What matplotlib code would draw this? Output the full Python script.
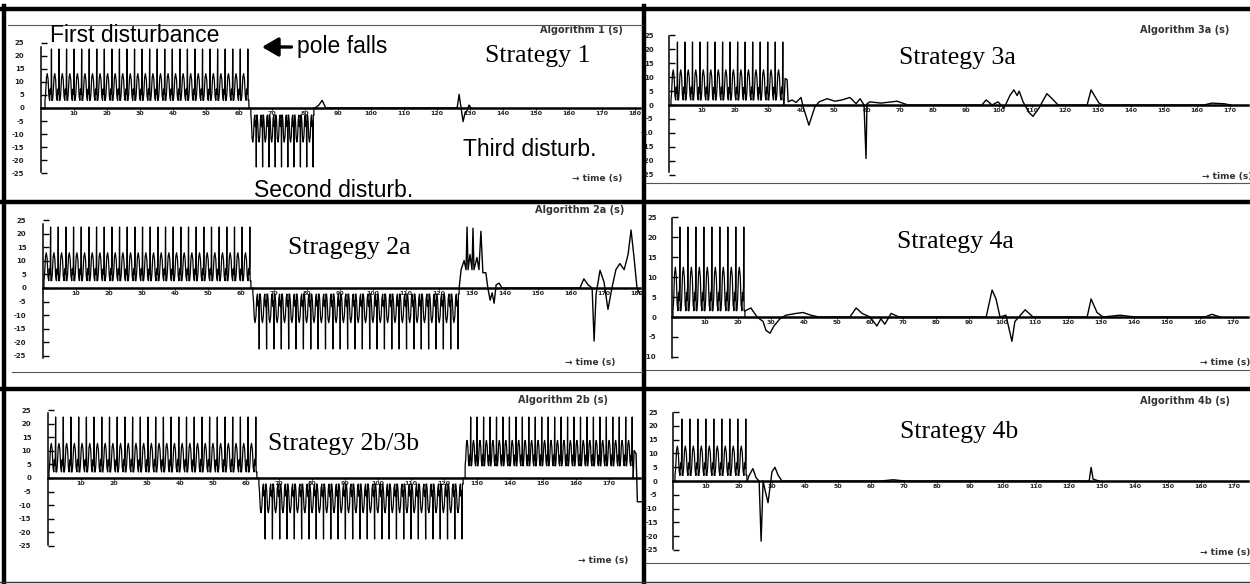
import numpy as np
import matplotlib.pyplot as plt
from matplotlib.lines import Line2D

W, H = 1250, 584

cycle_phase = [0.00, 0.08, 0.20, 0.30, 0.42, 0.52, 0.62, 0.70, 0.76, 0.82, 0.86, 0.90, 1.00]
cycle_level = [0.00, 0.12, 0.45, 0.52, 0.40, 0.08, 0.00, 0.22, 0.12, 0.28, 1.00, 0.00, 0.00]

# bursts: (start s, end s, cycles, trough, tip)
bursts_1 = [(1.2, 63.0, 27, 0.13, 1.0), (63.6, 82.7, 10, -0.12, -1.0)]
bursts_2a = [(0.3, 63.0, 27, 0.12, 1.0), (63.6, 126.1, 28, -0.10, -1.0)]
bursts_2b = [(0.3, 63.3, 27, 0.10, 1.0), (63.9, 125.8, 28, -0.10, -1.0), (126.4, 177.3, 26, 0.20, 1.0)]
bursts_3a = [(0.6, 34.8, 15, 0.08, 1.0)]
bursts_4a = [(0.3, 22.1, 9, 0.07, 1.0)]
bursts_4b = [(0.6, 22.4, 9, 0.09, 1.0)]

# transients between the bursts
t_1 = [83.0, 84.2, 85.2, 86.3, 126.1, 126.7, 127.3, 127.9, 128.5, 129.1, 129.7, 130.3]
y_1 = [0.0, 0.05, 0.13, 0.0, 0.0, 0.23, 0.0, -0.23, -0.08, -0.05, 0.05, 0.0]

t_2a = [126.1, 126.7, 127.6, 128.2, 128.5, 128.8, 129.4, 130.0, 130.3, 130.6, 131.5, 132.1, 132.7,
        133.3, 134.2, 134.8, 135.5, 136.1, 136.7, 137.3, 138.2, 139.1,
        162.7, 163.9, 165.2, 166.4, 167.0, 167.6, 168.8, 170.0, 171.2, 172.4, 173.6, 174.8,
        176.1, 177.3, 178.2, 179.1, 180.0, 180.9]
y_2a = [0.0, 0.3, 0.45, 0.3, 1.0, 0.3, 0.55, 0.3, 0.98, 0.3, 0.5, 0.3, 0.93,
        0.25, 0.25, 0.0, -0.2, -0.08, -0.25, 0.05, 0.08, 0.0,
        0.0, 0.15, 0.05, 0.0, -0.87, -0.1, 0.29, 0.1, -0.35, 0.0, 0.3, 0.4,
        0.3, 0.55, 0.95, 0.5, 0.0, -0.1]

t_2b = [177.3, 177.6, 178.2, 178.6, 180.3]
y_2b = [0.0, 0.45, 0.4, -0.39, -0.39]

t_3a = [34.8, 35.2, 35.8, 36.1, 37.3, 38.5, 40.0, 40.6, 42.4, 44.2, 45.5, 47.9, 50.3, 52.4,
        54.8, 56.7, 57.9, 59.1, 59.7, 60.0, 60.9, 64.2, 69.1, 72.4,
        94.8, 96.1, 97.9, 99.7, 101.5, 103.3, 104.5, 105.5, 106.1, 107.3, 109.1, 110.3,
        112.1, 114.5, 116.1, 117.9, 126.7, 127.9, 130.3, 131.5, 162.1, 164.5, 168.2, 170.3]
y_3a = [0.0, 0.42, 0.4, 0.05, 0.08, 0.04, 0.12, -0.02, -0.32, -0.03, 0.05, 0.1, 0.06, 0.08,
        0.12, 0.02, 0.1, 0.0, -0.85, 0.02, 0.05, 0.03, 0.06, 0.0,
        0.0, 0.08, 0.0, 0.05, -0.05, 0.15, 0.24, 0.15, 0.22, 0.05, -0.12, -0.18,
        -0.05, 0.18, 0.1, 0.0, 0.0, 0.24, 0.03, 0.0, 0.0, 0.03, 0.02, 0.0]

t_4a = [22.2, 23.9, 25.8, 27.6, 28.5, 29.7, 30.9, 32.7, 34.5, 37.6, 39.7, 42.1, 44.5,
        53.9, 55.8, 57.6, 60.0, 62.1, 63.3, 64.5, 66.4, 68.8,
        95.2, 97.0, 98.2, 99.4, 101.2, 103.0, 103.9, 107.0, 109.4,
        125.8, 127.0, 128.8, 130.6, 135.8, 140.3, 161.5, 163.6, 166.1]
y_4a = [0.07, 0.1, 0.0, -0.05, -0.15, -0.18, -0.1, -0.02, 0.02, 0.04, 0.05, 0.02, 0.0,
        0.0, 0.1, 0.04, 0.0, -0.1, -0.02, -0.08, 0.04, 0.0,
        0.0, 0.3, 0.2, 0.0, 0.02, -0.27, -0.05, 0.08, 0.0,
        0.0, 0.2, 0.05, 0.0, 0.02, 0.0, 0.0, 0.03, 0.0]

t_4b = [22.5, 23.0, 24.2, 25.2, 26.1, 26.7, 27.3, 27.9, 28.8, 29.4, 30.0, 30.9, 31.8, 33.0,
        63.0, 66.7, 70.3, 126.1, 126.7, 127.3, 129.1]
y_4b = [0.0, 0.08, 0.2, 0.05, 0.0, -0.97, 0.0, -0.15, -0.35, -0.1, 0.15, 0.22, 0.1, 0.0,
        0.0, 0.02, 0.0, 0.0, 0.22, 0.03, 0.0]

# panel layout: cell box in px, y-axis x, zero-line y, px per unit, y-axis span, tick range
panels = [
    dict(box=(6, 10, 642, 201), ax_x=41, zero=108, scale=59, span=(-1.08, 1.03), ticks=(-5, 5),
         bursts=bursts_1, t=t_1, y=y_1, title='Algorithm 1 (s)', tpos=(540, 30), time=(572, 178)),
    dict(box=(6, 204, 642, 388), ax_x=43, zero=288, scale=61, span=(-1.15, 1.05), ticks=(-5, 5),
         bursts=bursts_2a, t=t_2a, y=y_2a, title='Algorithm 2a (s)', tpos=(535, 210), time=(565, 362)),
    dict(box=(6, 391, 642, 582), ax_x=48, zero=478, scale=61, span=(-1.1, 1.07), ticks=(-5, 5),
         bursts=bursts_2b, t=t_2b, y=y_2b, title='Algorithm 2b (s)', tpos=(518, 400), time=(578, 560)),
    dict(box=(647, 10, 1250, 201), ax_x=669, zero=105, scale=63, span=(-1.06, 1.1), ticks=(-5, 5),
         bursts=bursts_3a, t=t_3a, y=y_3a, title='Algorithm 3a (s)', tpos=(1140, 30), time=(1202, 177)),
    dict(box=(647, 204, 1250, 388), ax_x=672, zero=317, scale=90, span=(-0.46, 1.1), ticks=(-2, 5),
         bursts=bursts_4a, t=t_4a, y=y_4a, title=None, tpos=None, time=(1200, 363)),
    dict(box=(647, 391, 1250, 582), ax_x=673, zero=481, scale=62, span=(-1.09, 1.09), ticks=(-5, 5),
         bursts=bursts_4b, t=t_4b, y=y_4b, title='Algorithm 4b (s)', tpos=(1140, 401), time=(1200, 553)),
]

PX_PER_S = 3.3
TICK_STEP = 0.222


def burst_trace(start, end, n, low, high):
    period = (end - start) / n
    t, y = [start], [0.0]
    for k in range(n):
        for ph, lv in zip(cycle_phase, cycle_level):
            t.append(start + (k + ph) * period)
            y.append(low + (high - low) * lv)
    t.append(end)
    y.append(0.0)
    return t, y


def fx(x):
    return x / W


def fy(y):
    return 1 - y / H


fig = plt.figure(figsize=(12.5, 5.84), dpi=100)

for p in panels:
    x0, y0, x1, y1 = p['box']
    ax = fig.add_axes([fx(x0), fy(y1), fx(x1 - x0), (y1 - y0) / H])
    ax.patch.set_visible(False)
    t_end = (x1 - 2 - p['ax_x']) / PX_PER_S
    ax.set_xlim(-(p['ax_x'] - x0) / PX_PER_S, (x1 - p['ax_x']) / PX_PER_S)
    ax.set_ylim(-(y1 - p['zero']) / p['scale'], (p['zero'] - y0) / p['scale'])

    for b in p['bursts']:
        bt, by = burst_trace(*b)
        ax.plot(bt, by, color='black', lw=0.9)
    ax.plot(p['t'], p['y'], color='black', lw=1.0)

    for s in ['top', 'right']:
        ax.spines[s].set_visible(False)
    ax.spines['left'].set_position(('data', 0))
    ax.spines['left'].set_bounds(*p['span'])
    ax.spines['left'].set_linewidth(1.1)
    ax.spines['bottom'].set_position(('data', 0))
    ax.spines['bottom'].set_bounds(0, t_end)
    ax.spines['bottom'].set_linewidth(1.8)

    ks = range(p['ticks'][0], p['ticks'][1] + 1)
    ax.set_yticks([k * TICK_STEP for k in ks])
    ax.set_yticklabels([str(5 * k) for k in ks], fontsize=5, fontweight='bold', color='#222222')
    ax.tick_params(axis='y', direction='in', length=4, width=1, pad=12 if x0 < 600 else 11)
    xt = np.arange(10, t_end, 10)
    ax.set_xticks(xt)
    ax.set_xticklabels([str(int(v)) for v in xt], fontsize=4.5, fontweight='bold', color='#222222')
    ax.tick_params(axis='x', direction='out', length=1.5, width=0.8, pad=1)

    if p['title']:
        ax.text(fx(p['tpos'][0]), fy(p['tpos'][1]), p['title'], transform=fig.transFigure,
                fontsize=7, fontweight='bold', color='#333333', va='center', clip_on=True)
    ax.text(fx(p['time'][0]), fy(p['time'][1]), '\u2192 time (s)', transform=fig.transFigure,
            fontsize=6.5, fontweight='bold', color='#333333', va='center', clip_on=True)

# annotations
sans = 'Liberation Sans'
serif = 'Liberation Serif'
fig.text(fx(50), fy(36), 'First disturbance', family=sans, fontsize=16.5, va='center')
fig.text(fx(463), fy(149), 'Third disturb.', family=sans, fontsize=16.5, va='center')
fig.text(fx(254), fy(190), 'Second disturb.', family=sans, fontsize=16.5, va='center')
fig.text(fx(485), fy(56), 'Strategy 1', family=serif, fontsize=18.5, va='center')
fig.text(fx(288), fy(248), 'Stragegy 2a', family=serif, fontsize=18.5, va='center')
fig.text(fx(268), fy(444), 'Strategy 2b/3b', family=serif, fontsize=18.5, va='center')
fig.text(fx(899), fy(58), 'Strategy 3a', family=serif, fontsize=18.5, va='center')
fig.text(fx(897), fy(242), 'Strategy 4a', family=serif, fontsize=18.5, va='center')
fig.text(fx(900), fy(432), 'Strategy 4b', family=serif, fontsize=18.5, va='center')
fig.add_artist(plt.Annotation('pole falls', xy=(262, H - 47), xytext=(297, H - 47),
                              xycoords='figure pixels', textcoords='figure pixels',
                              family=sans, fontsize=16.5, va='center',
                              arrowprops=dict(arrowstyle='-|>,head_length=0.6,head_width=0.35',
                                              color='black', lw=2.4, shrinkA=2, shrinkB=0)))


# panel borders
def hline(y, xa, xb, lw, color='black'):
    fig.add_artist(Line2D([fx(xa), fx(xb)], [fy(y), fy(y)], transform=fig.transFigure, lw=lw, color=color))


def vline(x, ya, yb, lw, color='black'):
    fig.add_artist(Line2D([fx(x), fx(x)], [fy(ya), fy(yb)], transform=fig.transFigure, lw=lw, color=color))


for yb in [9, 202, 389]:
    hline(yb, 0, W, 3.2)
vline(4, 6, H, 3.2)
vline(644, 6, H, 3.2)
hline(25, 8, 642, 0.8, '#555555')
hline(183, 646, W, 0.8, '#555555')
hline(372, 12, 642, 0.8, '#555555')
hline(370, 646, W, 0.8, '#555555')
hline(563, 646, W, 0.8, '#555555')
hline(582, 0, W, 1.0, '#333333')

fig.savefig('out.png', dpi=100)
